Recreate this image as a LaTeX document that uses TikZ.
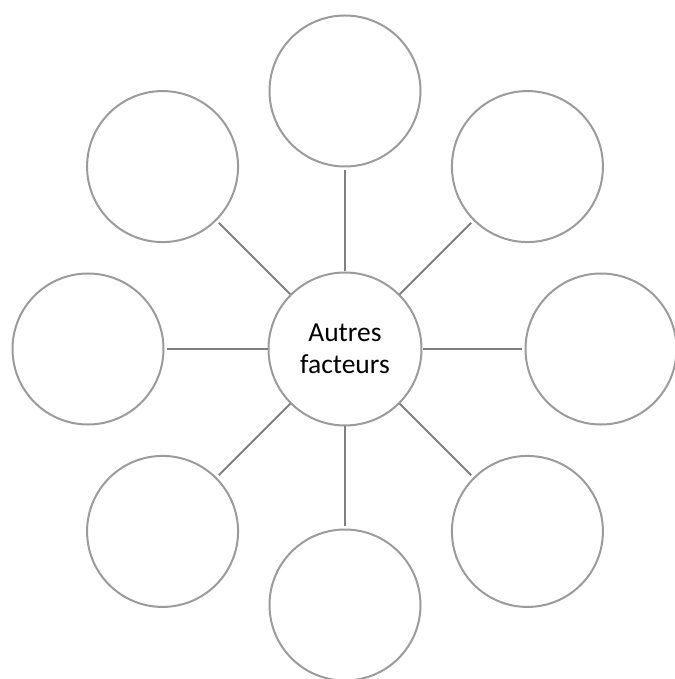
\documentclass[tikz,border=0pt]{standalone}
\usepackage{fontspec}
\setmainfont{Carlito}
\usepackage{tikz}
\usepackage{xcolor}
\definecolor{ringgray}{RGB}{155,155,155}
\definecolor{spokegray}{RGB}{128,128,128}
\tikzset{
  ring/.style={circle,draw=ringgray,line width=2pt,minimum size=151pt,inner sep=0pt},
  hub/.style={ring,minimum size=153pt,align=center,font=\fontsize{27.5}{32}\selectfont},
  spoke/.style={draw=spokegray,line width=2pt,shorten >=3pt}
}
\begin{document}
\begin{tikzpicture}[x=1pt,y=1pt]
\useasboundingbox (-345,-330) rectangle (329,349);
\node[hub] (hub) at (0,0) {Autres\\facteurs};
\node[ring] (n) at (90:258) {};
\node[ring] (ne) at (45:258) {};
\node[ring] (e) at (0:256) {};
\node[ring] (se) at (-45:258) {};
\node[ring] (s) at (-90:256) {};
\node[ring] (sw) at (-135:258) {};
\node[ring] (w) at (180:257) {};
\node[ring] (nw) at (135:258) {};
\draw[spoke] (hub) -- (n);
\draw[spoke] (hub) -- (ne);
\draw[spoke] (hub) -- (e);
\draw[spoke] (hub) -- (se);
\draw[spoke] (hub) -- (s);
\draw[spoke] (hub) -- (sw);
\draw[spoke] (hub) -- (w);
\draw[spoke] (hub) -- (nw);
\end{tikzpicture}
\end{document}
